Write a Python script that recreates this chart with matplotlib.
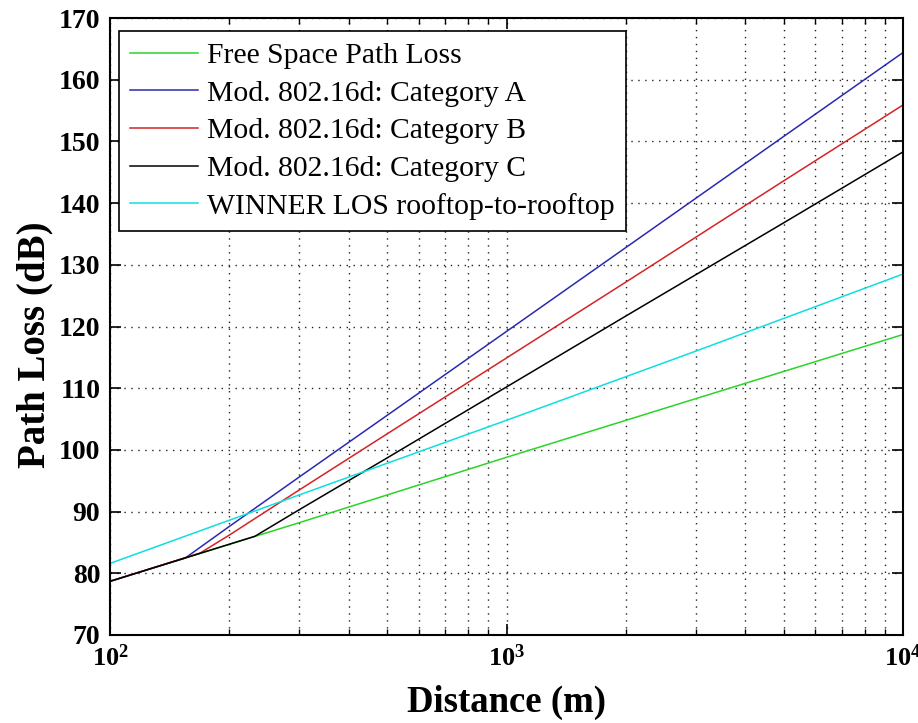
import matplotlib
matplotlib.use("Agg")
import matplotlib.pyplot as plt
from matplotlib.ticker import FixedLocator, FixedFormatter, NullFormatter, LogLocator

plt.rcParams['font.family'] = ['Liberation Serif', 'DejaVu Serif']
plt.rcParams['mathtext.fontset'] = 'custom'
plt.rcParams['mathtext.rm'] = 'Liberation Serif'
plt.rcParams['mathtext.bf'] = 'Liberation Serif:bold'

# ---- data ----
dist_fspl = [100, 300, 1000, 3000, 10000]
pl_fspl = [78.7, 88.2, 98.8, 108.3, 118.7]

dist_a = [100, 155, 200, 300, 500, 1000, 2000, 5000, 10000]
pl_a = [78.7, 82.5, 87.6, 95.6, 105.6, 119.2, 132.8, 150.8, 164.4]

dist_b = [100, 169, 200, 300, 500, 1000, 2000, 5000, 10000]
pl_b = [78.7, 83.3, 86.2, 93.5, 102.6, 114.9, 127.2, 143.6, 155.9]

dist_c = [100, 232, 300, 500, 1000, 2000, 5000, 10000]
pl_c = [78.7, 86.0, 90.3, 98.7, 110.2, 121.7, 136.8, 148.3]

dist_winner = [100, 300, 1000, 3000, 10000]
pl_winner = [81.6, 92.7, 104.8, 116.0, 128.5]

labels = ['Free Space Path Loss', 'Mod. 802.16d: Category A',
          'Mod. 802.16d: Category B', 'Mod. 802.16d: Category C',
          'WINNER LOS rooftop-to-rooftop']
colors = ['#2ad42a', '#2a2ab0', '#d42424', '#000000', '#10dede']

y_ticks = [70, 80, 90, 100, 110, 120, 130, 140, 150, 160, 170]
x_ticks = [100, 1000, 10000]
x_tick_labels = [r'$\mathbf{10^{2}}$', r'$\mathbf{10^{3}}$', r'$\mathbf{10^{4}}$']

fig = plt.figure(figsize=(9.18, 7.23), dpi=100)
ax = fig.add_axes([110/918, 88/723, 793/918, 617/723])

series = [(dist_fspl, pl_fspl), (dist_a, pl_a), (dist_b, pl_b),
          (dist_c, pl_c), (dist_winner, pl_winner)]
for (d, p), lab, col in zip(series, labels, colors):
    ax.plot(d, p, color=col, lw=1.1, label=lab)

ax.set_xscale('log')
ax.set_xlim(100, 10000)
ax.set_ylim(70, 170)
ax.xaxis.set_major_locator(FixedLocator(x_ticks))
ax.xaxis.set_major_formatter(FixedFormatter(x_tick_labels))
ax.xaxis.set_minor_locator(LogLocator(base=10, subs=[2, 3, 4, 5, 6, 7, 8, 9]))
ax.xaxis.set_minor_formatter(NullFormatter())
ax.set_yticks(y_ticks)

ax.grid(True, which='major', axis='both', color='#222222', ls=(0, (1, 4)), lw=1.0)
ax.grid(True, which='minor', axis='x', color='#222222', ls=(0, (1, 4)), lw=1.0)

ax.tick_params(axis='both', which='both', direction='in', top=True, right=True)
ax.tick_params(axis='both', which='major', length=8, width=1.2, pad=7)
ax.tick_params(axis='y', which='major', labelsize=20)
ax.tick_params(axis='x', which='major', labelsize=19)
ax.tick_params(axis='x', which='minor', length=4, width=1.0)
for t in ax.get_yticklabels():
    t.set_fontweight('bold')
for sp in ax.spines.values():
    sp.set_linewidth(1.5)

ax.set_xlabel('Distance (m)', fontsize=26.5, fontweight='bold', labelpad=10)
ax.set_ylabel('Path Loss (dB)', fontsize=28, fontweight='bold', labelpad=4)
ax.yaxis.label.set_y(0.47)

leg = ax.legend(loc='upper left', bbox_to_anchor=(9/793, 1 - 13/617),
                borderaxespad=0, fancybox=False, framealpha=1, edgecolor='black',
                fontsize=21.3, handlelength=2.3, handletextpad=0.3,
                labelspacing=0.37, borderpad=0.38)
leg.get_frame().set_linewidth(1.2)

fig.savefig('out.png', dpi=100)
